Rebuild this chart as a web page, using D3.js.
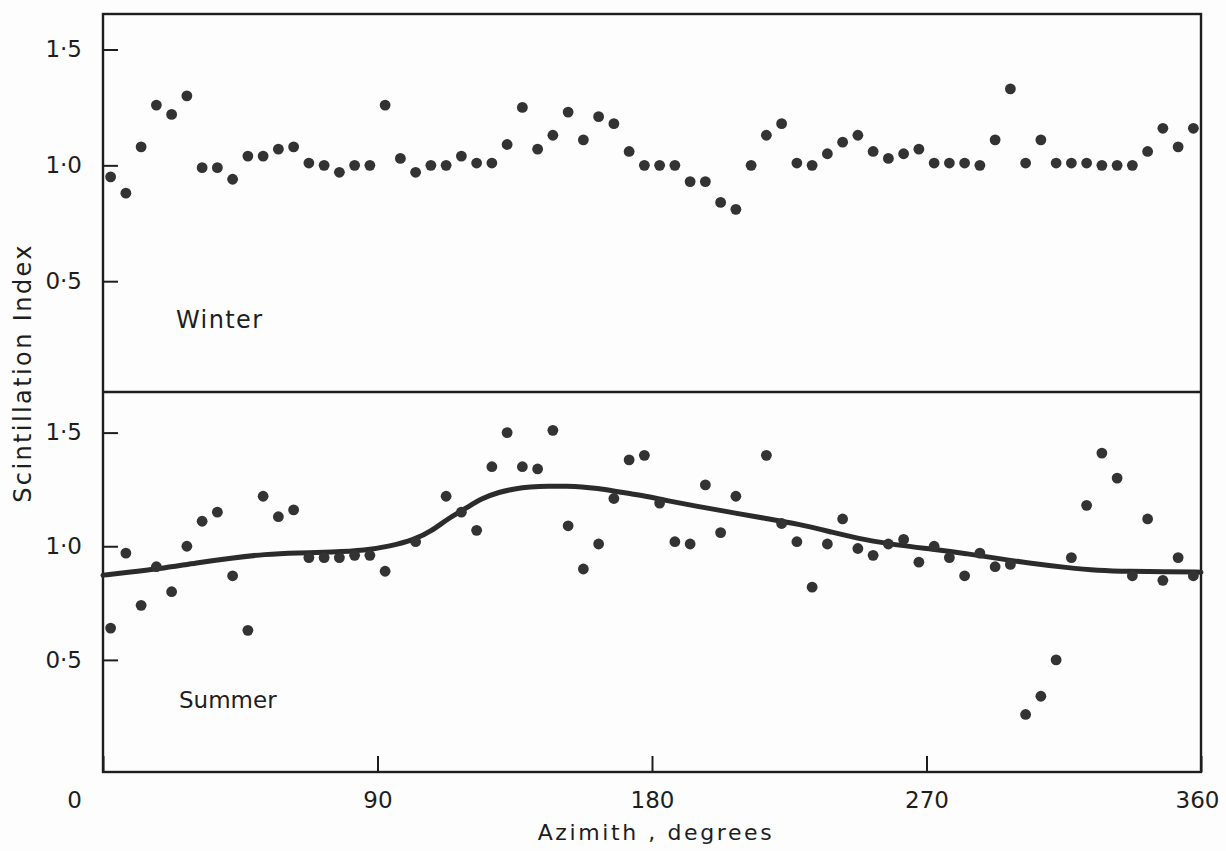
<!DOCTYPE html>
<html>
<head>
<meta charset="utf-8">
<script src="https://cdn.jsdelivr.net/npm/d3@7"></script>
<style>
  html, body { margin: 0; padding: 0; background: #fdfdfd; }
  svg { display: block; font-family: "DejaVu Sans", sans-serif; }
</style>
</head>
<body>
<svg id="chart" width="1226" height="851"></svg>
<script>
// Scintillation index against azimuth, winter and summer observations.

// Winter: one mean value per 5-degree azimuth bin
const winterAzimuth = [
  2.5, 7.5, 12.5, 17.5, 22.5, 27.5, 32.5, 37.5, 42.5, 47.5, 52.5, 57.5,
  62.5, 67.5, 72.5, 77.5, 82.5, 87.5, 92.5, 97.5, 102.5, 107.5, 112.5, 117.5,
  122.5, 127.5, 132.5, 137.5, 142.5, 147.5, 152.5, 157.5, 162.5, 167.5, 172.5, 177.5,
  182.5, 187.5, 192.5, 197.5, 202.5, 207.5, 212.5, 217.5, 222.5, 227.5, 232.5, 237.5,
  242.5, 247.5, 252.5, 257.5, 262.5, 267.5, 272.5, 277.5, 282.5, 287.5, 292.5, 297.5,
  302.5, 307.5, 312.5, 317.5, 322.5, 327.5, 332.5, 337.5, 342.5, 347.5, 352.5, 357.5
];
const winterIndex = [
  0.95, 0.88, 1.08, 1.26, 1.22, 1.30, 0.99, 0.99, 0.94, 1.04, 1.04, 1.07,
  1.08, 1.01, 1.00, 0.97, 1.00, 1.00, 1.26, 1.03, 0.97, 1.00, 1.00, 1.04,
  1.01, 1.01, 1.09, 1.25, 1.07, 1.13, 1.23, 1.11, 1.21, 1.18, 1.06, 1.00,
  1.00, 1.00, 0.93, 0.93, 0.84, 0.81, 1.00, 1.13, 1.18, 1.01, 1.00, 1.05,
  1.10, 1.13, 1.06, 1.03, 1.05, 1.07, 1.01, 1.01, 1.01, 1.00, 1.11, 1.33,
  1.01, 1.11, 1.01, 1.01, 1.01, 1.00, 1.00, 1.00, 1.06, 1.16, 1.08, 1.16
];

// Summer: bins 97.5, 107.5 and 212.5 have no observation
const summerAzimuth = [
  2.5, 7.5, 12.5, 17.5, 22.5, 27.5, 32.5, 37.5, 42.5, 47.5, 52.5, 57.5,
  62.5, 67.5, 72.5, 77.5, 82.5, 87.5, 92.5, 102.5, 112.5, 117.5,
  122.5, 127.5, 132.5, 137.5, 142.5, 147.5, 152.5, 157.5, 162.5, 167.5, 172.5, 177.5,
  182.5, 187.5, 192.5, 197.5, 202.5, 207.5, 217.5, 222.5, 227.5, 232.5, 237.5,
  242.5, 247.5, 252.5, 257.5, 262.5, 267.5, 272.5, 277.5, 282.5, 287.5, 292.5, 297.5,
  302.5, 307.5, 312.5, 317.5, 322.5, 327.5, 332.5, 337.5, 342.5, 347.5, 352.5, 357.5
];
const summerIndex = [
  0.64, 0.97, 0.74, 0.91, 0.80, 1.00, 1.11, 1.15, 0.87, 0.63, 1.22, 1.13,
  1.16, 0.95, 0.95, 0.95, 0.96, 0.96, 0.89, 1.02, 1.22, 1.15,
  1.07, 1.35, 1.50, 1.35, 1.34, 1.51, 1.09, 0.90, 1.01, 1.21, 1.38, 1.40,
  1.19, 1.02, 1.01, 1.27, 1.06, 1.22, 1.40, 1.10, 1.02, 0.82, 1.01,
  1.12, 0.99, 0.96, 1.01, 1.03, 0.93, 1.00, 0.95, 0.87, 0.97, 0.91, 0.92,
  0.26, 0.34, 0.50, 0.95, 1.18, 1.41, 1.30, 0.87, 1.12, 0.85, 0.95, 0.87
];

// Smoothed summer trend, sampled along the curve
const trendAzimuth = [
  0, 8, 18, 31, 42, 53, 64, 75, 86, 94, 102, 108, 113, 119, 124, 130, 135, 140,
  146, 152, 157, 162, 168, 173, 179, 184, 195, 206, 217, 228, 239, 250, 261, 272,
  283, 294, 304, 316, 326, 337, 348, 360
];
const trendIndex = [
  0.873, 0.885, 0.900, 0.928, 0.948, 0.965, 0.971, 0.974, 0.982, 1.000, 1.028, 1.069,
  1.121, 1.167, 1.210, 1.239, 1.253, 1.261, 1.265, 1.264, 1.262, 1.255, 1.242, 1.231,
  1.218, 1.203, 1.175, 1.149, 1.123, 1.098, 1.062, 1.027, 1.004, 0.987, 0.968, 0.945,
  0.925, 0.906, 0.893, 0.889, 0.888, 0.886
];

const xTicks = [0, 90, 180, 270, 360];
const xTickLabels = ["0", "90", "180", "270", "360"];
const yTicks = [0.5, 1.0, 1.5];
const yTickLabels = ["0·5", "1·0", "1·5"];

const svg = d3.select("#chart");
const ink = "#1e1e1e";

const x = d3.scaleLinear().domain([0, 360]).range([103, 1201]);
const yWinter = d3.scaleLinear().domain([0.5, 1.5]).range([281.2, 49.5]);
const ySummer = d3.scaleLinear().domain([0.5, 1.5]).range([659.9, 432.6]);

const frameTop = 14, frameMid = 392, frameBottom = 772;
const [left, right] = x.range();

// outer frame and panel divider
svg.append("rect")
  .attr("x", left).attr("y", frameTop)
  .attr("width", right - left).attr("height", frameBottom - frameTop)
  .attr("fill", "none").attr("stroke", ink).attr("stroke-width", 2.4);
svg.append("line")
  .attr("x1", left).attr("x2", right)
  .attr("y1", frameMid).attr("y2", frameMid)
  .attr("stroke", ink).attr("stroke-width", 2.4);

// left axes, ticks pointing into each panel
function leftAxis(scale) {
  const g = svg.append("g")
    .attr("transform", `translate(${left},0)`)
    .call(d3.axisLeft(scale)
      .tickValues(yTicks)
      .tickFormat((d, i) => yTickLabels[i])
      .tickSizeInner(-15)
      .tickSizeOuter(0)
      .tickPadding(21));
  g.select(".domain").remove();
  g.selectAll(".tick line").attr("stroke", ink).attr("stroke-width", 2);
  g.selectAll(".tick text")
    .attr("fill", ink)
    .style("font-size", "23px")
    .style("font-family", "'DejaVu Sans', sans-serif");
}
leftAxis(yWinter);
leftAxis(ySummer);

// azimuth axis along the bottom
const xg = svg.append("g")
  .attr("transform", `translate(0,${frameBottom})`)
  .call(d3.axisBottom(x)
    .tickValues(xTicks)
    .tickFormat((d, i) => xTickLabels[i])
    .tickSizeInner(-16)
    .tickSizeOuter(0)
    .tickPadding(20));
xg.select(".domain").remove();
xg.selectAll(".tick line").attr("stroke", ink).attr("stroke-width", 2);
xg.selectAll(".tick text")
  .attr("fill", ink)
  .style("font-size", "23px")
  .style("font-family", "'DejaVu Sans', sans-serif");
// the zero label sits out past the corner of the frame
xg.selectAll(".tick text").filter(d => d === 0).attr("x", -29);
xg.selectAll(".tick text").filter(d => d === 360).attr("x", -4);

// summer trend curve
const trend = trendAzimuth.map((a, i) => [a, trendIndex[i]]);
svg.append("path")
  .datum(trend)
  .attr("fill", "none")
  .attr("stroke", "#2b2b2b")
  .attr("stroke-width", 5)
  .attr("stroke-linecap", "round")
  .attr("d", d3.line()
    .x(d => x(d[0]))
    .y(d => ySummer(d[1]))
    .curve(d3.curveBasis));

// observation dots
function dots(az, vals, scale) {
  svg.append("g").selectAll("circle")
    .data(az.map((a, i) => [a, vals[i]]))
    .join("circle")
    .attr("cx", d => x(d[0]))
    .attr("cy", d => scale(d[1]))
    .attr("r", 5.4)
    .attr("fill", "#333333");
}
dots(winterAzimuth, winterIndex, yWinter);
dots(summerAzimuth, summerIndex, ySummer);

// panel names
svg.append("text")
  .attr("x", 176).attr("y", 328)
  .attr("fill", ink)
  .style("font-size", "24px")
  .style("letter-spacing", "1.4px")
  .text("Winter");
svg.append("text")
  .attr("x", 179).attr("y", 708)
  .attr("fill", ink)
  .style("font-size", "23px")
  .text("Summer");

// axis titles
svg.append("text")
  .attr("x", 656).attr("y", 840)
  .attr("text-anchor", "middle")
  .attr("fill", ink)
  .style("font-size", "22px")
  .style("letter-spacing", "2.6px")
  .text("Azimith , degrees");
svg.append("text")
  .attr("transform", "translate(31,373) rotate(-90)")
  .attr("text-anchor", "middle")
  .attr("fill", ink)
  .style("font-size", "24px")
  .style("letter-spacing", "2.4px")
  .text("Scintillation Index");
</script>
</body>
</html>
